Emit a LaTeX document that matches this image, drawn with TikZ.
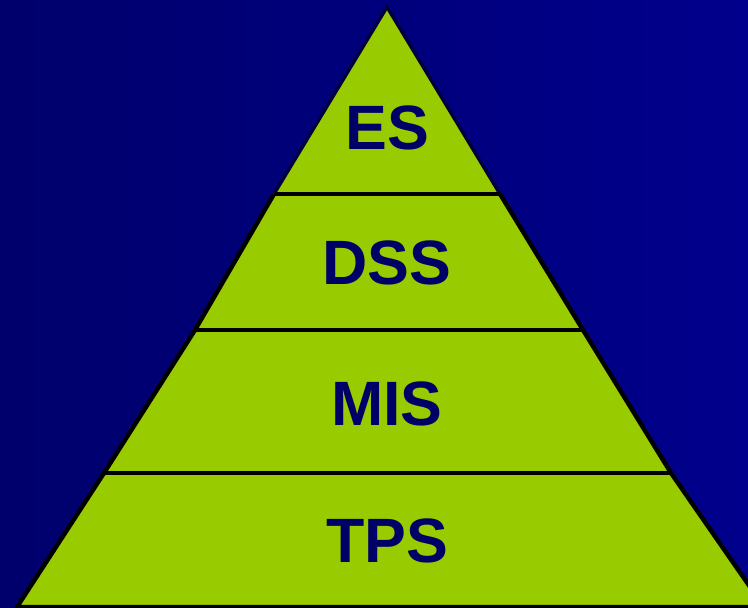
\documentclass[tikz,border=0pt]{standalone}
\usepackage{fontspec}
\setsansfont{Liberation Sans}
\definecolor{bgleft}{RGB}{0,0,108}
\definecolor{bgright}{RGB}{0,0,140}
\definecolor{layergreen}{RGB}{153,204,0}
\definecolor{labelnavy}{RGB}{0,0,102}
\definecolor{glownavy}{RGB}{0,0,60}
\tikzset{
  layerlabel/.style={font=\sffamily\bfseries\fontsize{47}{47}\selectfont, text=labelnavy, inner sep=0pt},
  outline/.style={draw=black, line width=3.3pt, line join=miter},
  divider/.style={draw=black, line width=3.3pt}
}
\begin{document}
\begin{tikzpicture}[x=0.75pt,y=-0.75pt]
  \useasboundingbox (0,0) rectangle (748,607);
  \shade[left color=bgleft, right color=bgright] (0,0) rectangle (748,607);
  % boundary points
  \coordinate (apex) at (387,7);
  \coordinate (l1) at (274,194); \coordinate (r1) at (500,194);
  \coordinate (l2) at (195,330); \coordinate (r2) at (583,330);
  \coordinate (l3) at (104,473); \coordinate (r3) at (671,473);
  \coordinate (l4) at (17,607);  \coordinate (r4) at (764,607);
  % fill
  \begin{scope}
    \clip (0,0) rectangle (748,607);
    \fill[layergreen] (apex) -- (r1) -- (r2) -- (r3) -- (r4) -- (l4) -- (l3) -- (l2) -- (l1) -- cycle;
    \draw[draw=glownavy, line width=2.5pt, line join=miter] (l1) -- (apex) -- (r1);
    \draw[outline] (l1) -- (l2) -- (l3) -- (l4) -- (r4) -- (r3) -- (r2) -- (r1);
    \draw[divider] (l1) -- (r1);
    \draw[divider] (l2) -- (r2);
    \draw[divider] (l3) -- (r3);
  \end{scope}
  % labels
  \node[layerlabel] (es)  at (387,128) {ES};
  \node[layerlabel] (dss) at (387,263) {DSS};
  \node[layerlabel] (mis) at (387,404) {MIS};
  \node[layerlabel] (tps) at (387,541) {TPS};
\end{tikzpicture}
\end{document}
